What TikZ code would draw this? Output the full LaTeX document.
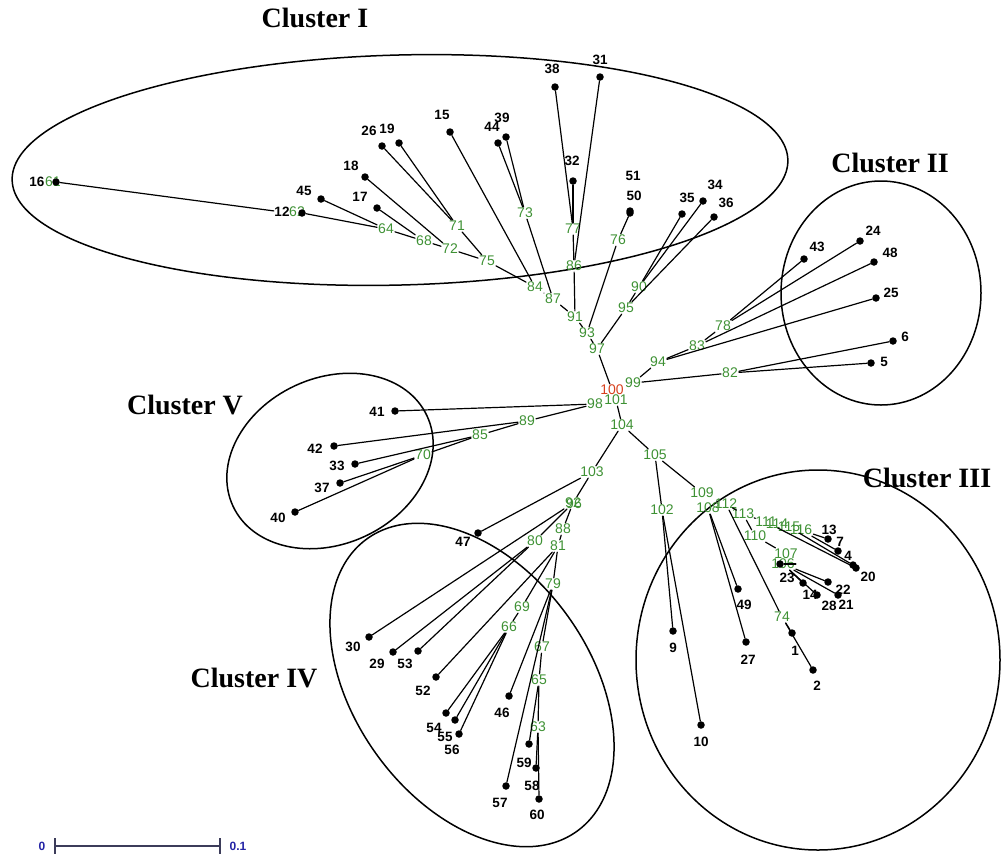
\documentclass[tikz,border=0pt]{standalone}
\usepackage{fontspec}
\newfontfamily\lsans{Liberation Sans}
\newfontfamily\lserif{Liberation Serif}
\definecolor{igreen}{RGB}{62,145,52}
\definecolor{ired}{RGB}{215,65,30}
\definecolor{sblue}{RGB}{35,35,165}
\definecolor{sbar}{RGB}{60,60,90}
\tikzset{
  dot/.style={circle,fill=black,inner sep=0pt,minimum size=7.5pt},
  leaf/.style={font=\lsans\bfseries\fontsize{13.5}{14}\selectfont,inner sep=0.5pt},
  ilab/.style={font=\lsans\fontsize{14}{14}\selectfont,text=igreen,inner sep=1pt},
  br/.style={line width=1.2pt,line cap=round},
  clus/.style={line width=1.5pt},
  ctitle/.style={font=\lserif\bfseries\fontsize{28}{28}\selectfont},
}
% leaf: number, dot x, dot y, label x, label y
\newcommand{\leafat}[5]{\node[dot] (d#1) at (#2,#3) {}; \node[leaf] (l#1) at (#4,#5) {#1};}
% internal node: number, x, y
\newcommand{\innat}[3]{\node[ilab] (n#1) at (#2,#3) {#1};}
\begin{document}
\begin{tikzpicture}[x=1pt,y=-1pt]
\useasboundingbox (0,0) rectangle (1003,855);

% ---- cluster outlines ----
\draw[clus,rotate around={1.5:(400,170)}] (400,170) ellipse [x radius=388pt, y radius=115pt];
\draw[clus] (881,293) ellipse [x radius=100pt, y radius=112pt];
\draw[clus] (818,660) ellipse [x radius=182pt, y radius=190pt];
\draw[clus,rotate around={-54.4:(472,685)}] (472,685) ellipse [x radius=180pt, y radius=118pt];
\draw[clus,rotate around={24.9:(330,461)}] (330,461) ellipse [x radius=107pt, y radius=83pt];

% ---- cluster titles ----
\node[ctitle] at (315,18) {Cluster I};
\node[ctitle] at (890,163) {Cluster II};
\node[ctitle] at (927,478) {Cluster III};
\node[ctitle] at (254,678) {Cluster IV};
\node[ctitle] at (185,405) {Cluster V};

% ---- internal nodes ----
\innat{61}{53}{182}
\innat{62}{297}{212}
\innat{64}{386}{229}
\innat{68}{424}{241}
\innat{71}{457}{226}
\innat{72}{450}{249}
\innat{73}{525}{213}
\innat{75}{487}{261}
\innat{84}{535}{287}
\innat{87}{553}{299}
\innat{77}{573}{229}
\innat{86}{574}{266}
\innat{91}{575}{317}
\innat{76}{618}{240}
\innat{93}{587}{333}
\innat{90}{639}{287}
\innat{95}{626}{308}
\innat{97}{597}{349}
\node[ilab,text=ired] (n100) at (612,390) {100};
\innat{101}{616}{400}
\innat{99}{633}{383}
\innat{94}{658}{362}
\innat{83}{697}{346}
\innat{78}{723}{326}
\innat{82}{730}{373}
\innat{98}{595}{404}
\innat{89}{527}{421}
\innat{85}{480}{435}
\innat{70}{423}{455}
\innat{104}{622}{425}
\innat{103}{592}{472}
\innat{92}{573}{503}
\node[ilab] (n96b) at (574,504) {96};
\innat{88}{563}{529}
\innat{80}{535}{541}
\innat{81}{558}{546}
\innat{79}{553}{584}
\innat{69}{522}{607}
\innat{66}{509}{627}
\innat{67}{542}{647}
\innat{65}{539}{680}
\innat{63}{538}{727}
\innat{105}{655}{455}
\innat{102}{662}{510}
\innat{109}{702}{493}
\innat{108}{708}{508}
\innat{112}{726}{504}
\innat{113}{743}{514}
\innat{110}{755}{536}
\innat{111}{766}{522}
\innat{114}{777}{524}
\innat{115}{789}{527}
\innat{116}{801}{530}
\innat{107}{786}{554}
\innat{106}{783}{564}
\innat{74}{782}{617}

% ---- leaves ----
\leafat{16}{56}{182}{37}{182}
\leafat{12}{302}{213}{282}{212}
\leafat{45}{321}{199}{304}{191}
\leafat{17}{377}{208}{360}{197}
\leafat{18}{365}{177}{351}{166}
\leafat{26}{382}{146}{369}{131}
\leafat{19}{399}{143}{387}{129}
\leafat{15}{450}{132}{442}{115}
\leafat{44}{498}{143}{492}{127}
\leafat{39}{506}{137}{502}{118}
\leafat{38}{555}{87}{552}{69}
\leafat{31}{600}{77}{600}{60}
\leafat{32}{573}{181}{572}{161}
\leafat{51}{630}{211}{633}{176}
\leafat{50}{630}{213}{634}{196}
\leafat{35}{682}{214}{687}{198}
\leafat{34}{703}{201}{715}{185}
\leafat{36}{714}{217}{726}{203}
\leafat{43}{804}{259}{817}{247}
\leafat{24}{860}{241}{873}{231}
\leafat{48}{874}{262}{890}{253}
\leafat{25}{876}{298}{891}{293}
\leafat{6}{893}{341}{905}{337}
\leafat{5}{871}{363}{884}{362}
\leafat{41}{395}{411}{377}{412}
\leafat{42}{334}{446}{315}{449}
\leafat{33}{355}{464}{337}{466}
\leafat{37}{340}{483}{322}{488}
\leafat{40}{295}{512}{278}{518}
\leafat{47}{478}{533}{463}{542}
\leafat{30}{369}{637}{353}{647}
\leafat{29}{393}{652}{377}{664}
\leafat{53}{418}{651}{405}{664}
\leafat{52}{436}{677}{423}{691}
\leafat{54}{446}{713}{434}{728}
\leafat{55}{455}{720}{445}{737}
\leafat{56}{459}{734}{452}{750}
\leafat{46}{509}{696}{502}{713}
\leafat{59}{529}{744}{524}{763}
\leafat{58}{536}{768}{532}{786}
\leafat{57}{506}{786}{500}{803}
\leafat{60}{539}{799}{537}{815}
\leafat{9}{673}{631}{673}{648}
\leafat{10}{701}{725}{701}{742}
\leafat{49}{738}{589}{744}{605}
\leafat{27}{746}{642}{748}{660}
\leafat{1}{792}{633}{795}{651}
\leafat{2}{813}{670}{817}{686}
\leafat{13}{828}{539}{829}{530}
\leafat{7}{838}{551}{840}{542}
\leafat{4}{853}{565}{848}{556}
\leafat{20}{856}{568}{868}{577}
\leafat{23}{780}{564}{787}{578}
\leafat{14}{803}{583}{810}{595}
\leafat{28}{817}{595}{829}{606}
\leafat{22}{828}{582}{843}{590}
\leafat{21}{838}{595}{846}{605}

% ---- branches: cluster I ----
\draw[br] (d16) -- (l12);
\draw[br] (n62) -- (n64);
\draw[br] (d45) -- (n64);
\draw[br] (n64) -- (n68);
\draw[br] (d17) -- (n68);
\draw[br] (n68) -- (n72);
\draw[br] (d18) -- (n72);
\draw[br] (d26) -- (n71);
\draw[br] (d19) -- (n71);
\draw[br] (n71) -- (n75);
\draw[br] (n72) -- (n75);
\draw[br] (n75) -- (n84);
\draw[br] (d15) -- (n84);
\draw[br] (n84) -- (n87);
\draw[br] (d44) -- (n73);
\draw[br] (d39) -- (n73);
\draw[br] (n73) -- (n87);
\draw[br] (n87) -- (n91);
\draw[br] (d38) -- (n77);
\draw[br] (d32) -- (n77);
\draw[br] (n77) -- (n86);
\draw[br] (d31) -- (n86);
\draw[br] (n86) -- (n91);
\draw[br] (n91) -- (n93);
\draw[br] (d50) -- (n76);
\draw[br] (n76) -- (n93);
\draw[br] (n93) -- (n97);
\draw[br] (d35) -- (n90);
\draw[br] (d34) -- (n90);
\draw[br] (n90) -- (n95);
\draw[br] (d36) -- (n95);
\draw[br] (n95) -- (n97);
\draw[br] (n97) -- (n100);

% ---- branches: cluster II ----
\draw[br] (d43) -- (n78);
\draw[br] (d24) -- (n78);
\draw[br] (n78) -- (n83);
\draw[br] (d48) -- (n83);
\draw[br] (n83) -- (n94);
\draw[br] (d25) -- (n94);
\draw[br] (n94) -- (n99);
\draw[br] (d6) -- (n82);
\draw[br] (d5) -- (n82);
\draw[br] (n82) -- (n99);

% ---- branches: cluster V ----
\draw[br] (d41) -- (n98);
\draw[br] (d42) -- (n89);
\draw[br] (d33) -- (n85);
\draw[br] (d37) -- (n70);
\draw[br] (d40) -- (n70);
\draw[br] (n70) -- (n85);
\draw[br] (n85) -- (n89);
\draw[br] (n89) -- (n98);

% ---- centre ----
\draw[br] (n101) -- (n104);
\draw[br] (n104) -- (n103);
\draw[br] (n104) -- (n105);

% ---- branches: cluster IV ----
\draw[br] (d47) -- (n103);
\draw[br] (n103) -- (n92);
\draw[br] (d30) -- (n92);
\draw[br] (d29) -- (n80);
\draw[br] (d53) -- (n80);
\draw[br] (n80) -- (n92);
\draw[br] (n92) -- (n88);
\draw[br] (n88) -- (n81);
\draw[br] (d52) -- (n81);
\draw[br] (n81) -- (n69);
\draw[br] (n69) -- (n66);
\draw[br] (d54) -- (n66);
\draw[br] (d55) -- (n66);
\draw[br] (d56) -- (n66);
\draw[br] (n81) -- (n79);
\draw[br] (d46) -- (n79);
\draw[br] (d57) -- (n79);
\draw[br] (n79) -- (n67);
\draw[br] (n67) -- (n65);
\draw[br] (n65) -- (n63);
\draw[br] (d59) -- (n65);
\draw[br] (d58) -- (n63);
\draw[br] (d60) -- (n63);

% ---- branches: cluster III ----
\draw[br] (n105) -- (n102);
\draw[br] (n105) -- (n109);
\draw[br] (n102) -- (d9);
\draw[br] (n102) -- (d10);
\draw[br] (n108) -- (d49);
\draw[br] (n108) -- (d27);
\draw[br] (n112) -- (n74);
\draw[br] (n74) -- (d1);
\draw[br] (n74) -- (d2);
\draw[br] (n112) -- (n113);
\draw[br] (n113) -- (n111);
\draw[br] (n113) -- (n110);
\draw[br] (n110) -- (n107);
\draw[br] (n106) -- (d23);
\draw[br] (n106) -- (d14);
\draw[br] (n106) -- (d28);
\draw[br] (n106) -- (d22);
\draw[br] (n106) -- (d21);
\draw[br] (n116) -- (d13);
\draw[br] (n116) -- (d7);
\draw[br] (n115) -- (d4);
\draw[br] (n111) -- (d20);

% ---- scale bar ----
\node[font=\lsans\bfseries\fontsize{12}{12}\selectfont,text=sblue] (s0) at (42,846) {0};
\node[font=\lsans\bfseries\fontsize{12}{12}\selectfont,text=sblue] (s1) at (238,846) {0.1};
\coordinate (sa) at (55,846);
\coordinate (sb) at (220,846);
\draw[sbar,line width=1.1pt] (sa) -- (sb);
\draw[sbar,line width=1.1pt] (55,838) -- (55,854);
\draw[sbar,line width=1.1pt] (220,838) -- (220,854);
\end{tikzpicture}
\end{document}
